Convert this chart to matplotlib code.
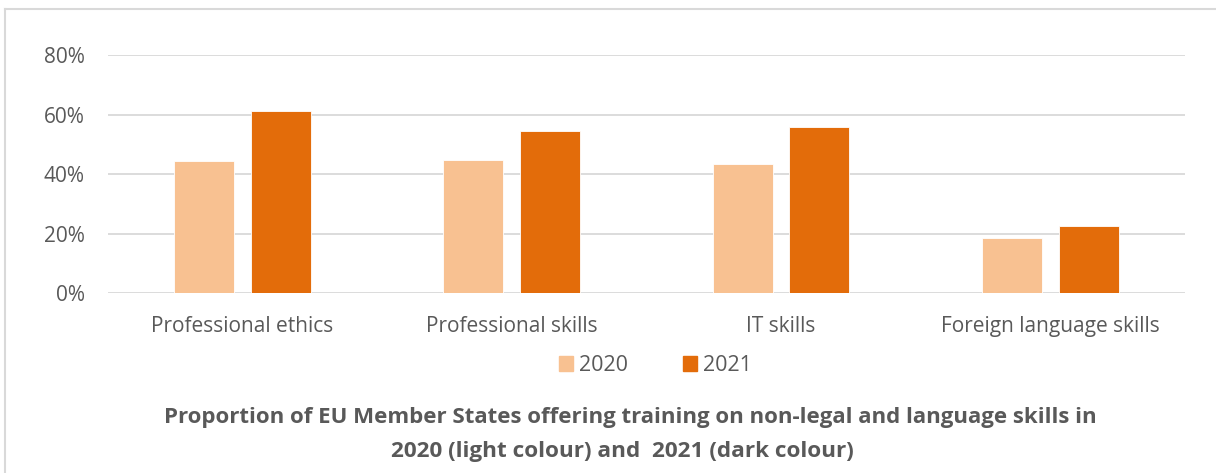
import matplotlib
matplotlib.use('Agg')
import matplotlib.pyplot as plt
from matplotlib.lines import Line2D
from matplotlib.ticker import PercentFormatter
import numpy as np

# data (share of Member States)
categories = ['Professional ethics', 'Professional skills', 'IT skills', 'Foreign language skills']
years = ['2020', '2021']
share_2020 = [0.445, 0.446, 0.434, 0.187]
share_2021 = [0.612, 0.546, 0.558, 0.226]
title_lines = ['Proportion of EU Member States offering training on non-legal and language skills in',
               '2020 (light colour) and  2021 (dark colour)']

light = '#F8C191'
dark = '#E36C0A'
grey_txt = '#595959'
grid_col = '#D9D9D9'

plt.rcParams['font.family'] = ['Open Sans', 'DejaVu Sans']

fig = plt.figure(figsize=(12.16, 4.73), dpi=100)
W, H = 1216, 473

# plot area in pixel coords converted to figure fractions
left, right, top, bottom = 107.7, 1185, 55, 293.3
ax = fig.add_axes([left / W, 1 - bottom / H, (right - left) / W, (bottom - top) / H])

x = np.arange(len(categories))
bw = 0.223
off = 0.142
ax.bar(x - off, share_2020, bw, color=light, edgecolor='white', linewidth=0.6, label=years[0], zorder=3)
ax.bar(x + off, share_2021, bw, color=dark, edgecolor='white', linewidth=0.6, label=years[1], zorder=3)

ax.set_xlim(-0.5, len(categories) - 0.5)
ax.set_ylim(0, 0.8)
ax.set_yticks([0, 0.2, 0.4, 0.6, 0.8])
ax.yaxis.set_major_formatter(PercentFormatter(1.0, decimals=0))
ax.grid(axis='y', color=grid_col, linewidth=1.3, zorder=0)
ax.set_axisbelow(True)
for s in ax.spines.values():
    s.set_visible(False)
ax.tick_params(axis='both', length=0, labelsize=15, colors=grey_txt)
ax.tick_params(axis='y', pad=16.5)
ax.tick_params(axis='x', pad=16)
ax.set_xticks(x)
ax.set_xticklabels(categories)

# legend below the categories
handles = [plt.Rectangle((0, 0), 1, 1, color=light), plt.Rectangle((0, 0), 1, 1, color=dark)]
fig.legend(handles, years, loc='center', bbox_to_anchor=(655 / W, 1 - 365.5 / H), ncol=2,
           frameon=False, fontsize=15.5, labelcolor=grey_txt, handlelength=0.65, handleheight=0.65,
           handletextpad=0.28, columnspacing=2.55)

# two line bold caption
fig.text(630 / W, 1 - 423 / H, title_lines[0], ha='center', va='baseline', fontsize=16,
         fontweight='bold', color=grey_txt)
fig.text(622.5 / W, 1 - 456.7 / H, title_lines[1], ha='center', va='baseline', fontsize=16.2,
         fontweight='bold', color=grey_txt)

# thin frame at top and left like the original export
fig.add_artist(Line2D([4.7 / W, 1], [1 - 9.3 / H, 1 - 9.3 / H], color=grid_col, linewidth=1.5))
fig.add_artist(Line2D([4.7 / W, 4.7 / W], [0, 1 - 9.3 / H], color=grid_col, linewidth=1.5))

fig.savefig('out.png', dpi=100)
